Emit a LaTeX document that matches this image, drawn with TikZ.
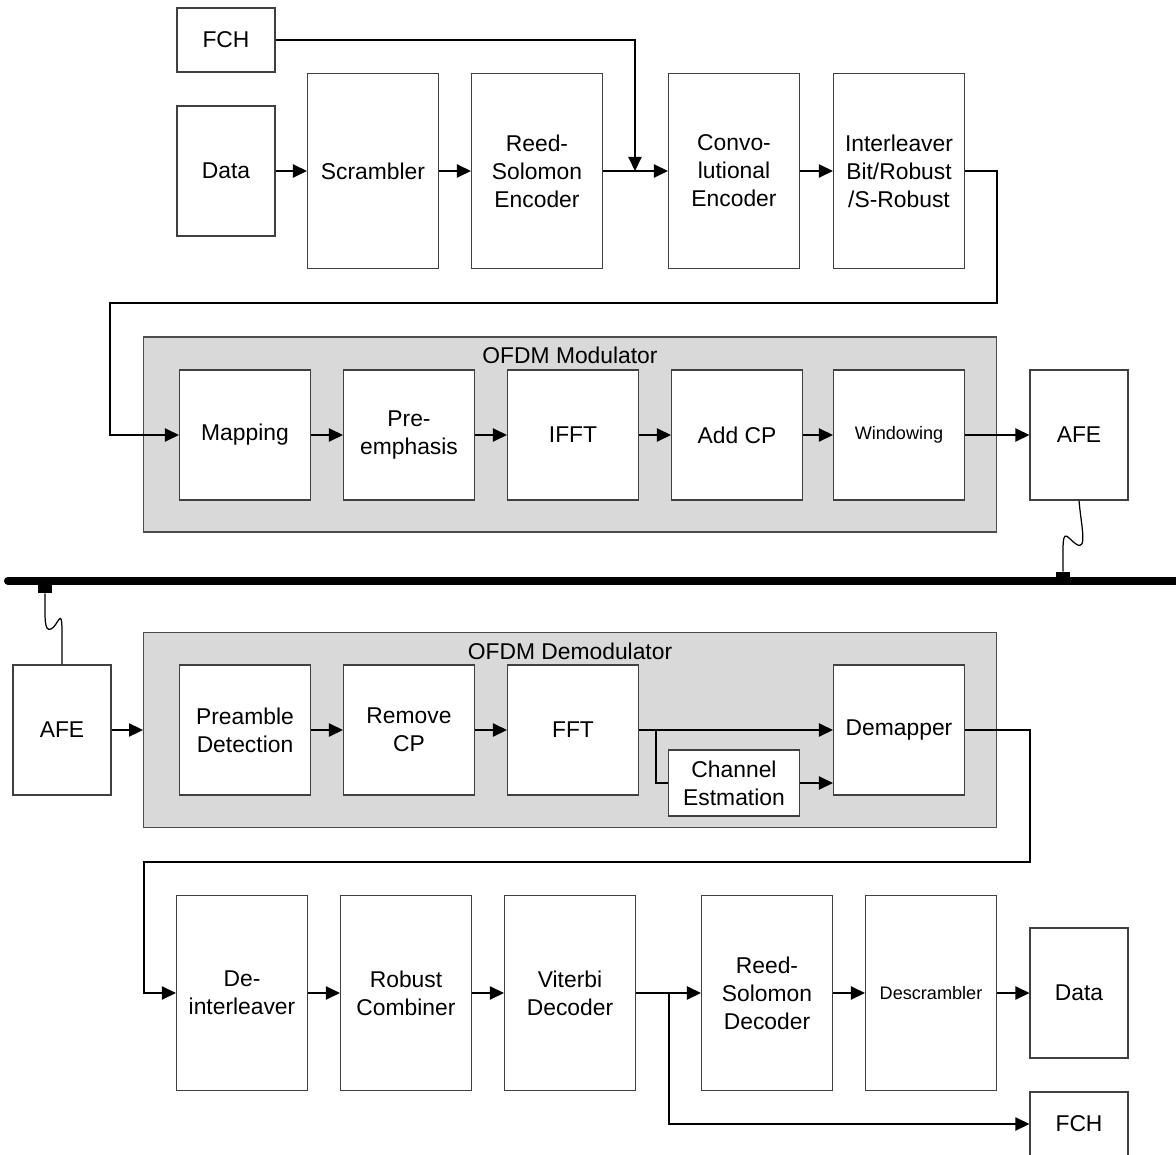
\documentclass[tikz,border=0pt]{standalone}
\usepackage{fontspec}
\setmainfont{Liberation Sans}
\usetikzlibrary{arrows.meta}
\tikzset{
  blk/.style={draw=black!75,line width=0.6pt,fill=white,inner sep=0pt,align=center,
    minimum width=2.62cm,minimum height=3.9cm,font=\fontsize{13}{15.9}\selectfont},
  midblk/.style={blk,minimum height=2.6cm},
  smallblk/.style={blk,minimum width=1.96cm,minimum height=2.6cm},
  fchblk/.style={blk,minimum width=1.96cm,minimum height=1.28cm},
  chanblk/.style={blk,minimum height=1.32cm},
  graybox/.style={draw=black!70,line width=0.6pt,fill=black!15,inner sep=0pt,
    minimum width=17.06cm,minimum height=3.9cm},
  lbl/.style={font=\fontsize{13}{15.9}\selectfont,inner sep=0pt},
  arr/.style={line width=0.85pt,-{Triangle[length=8pt,width=7.5pt]}},
  ln/.style={line width=0.85pt},
  bus/.style={line width=4.6pt,line cap=round},
  tap/.style={fill=black,inner sep=0pt,minimum width=0.28cm,minimum height=0.16cm},
  wire/.style={line width=0.7pt}
}
\begin{document}
\begin{tikzpicture}[x=0.02cm,y=-0.02cm]
	\useasboundingbox (0,0) rectangle (1176,1155);
	% transmitter
	\node[fchblk] (fchA) at (226,40) {FCH};
	\node[smallblk] (datA) at (226,171) {Data};
	\node[blk] (scr) at (373,171) {Scrambler};
	\node[blk] (rse) at (537,171) {Reed-\\Solomon\\Encoder};
	\node[blk] (conv) at (734,171) {Convo-\\lutional\\Encoder};
	\node[blk] (ilv) at (899,171) {Interleaver\\Bit/Robust\\/S-Robust};
	\node[graybox] (mod) at (570,434.5) {};
	\node[lbl] (modlbl) at (570,355) {OFDM Modulator};
	\node[midblk] (map) at (245,435) {Mapping};
	\node[midblk] (pre) at (409,435) {Pre-\\emphasis};
	\node[midblk] (ifft) at (573,435) {IFFT};
	\node[midblk] (acp) at (737,435) {Add CP};
	\node[midblk,font=\fontsize{10.3}{12.5}\selectfont] (win) at (899,435) {Windowing};
	\node[smallblk] (afeA) at (1079,435) {AFE};
	\coordinate (jnA) at (635,171);
	\coordinate (tA) at (997,303);
	\coordinate (tB) at (110,303);
	\draw[arr] (fchA.east) -| (jnA);
	\draw[arr] (datA.east) -- (scr.west);
	\draw[arr] (scr.east) -- (rse.west);
	\draw[arr] (rse.east) -- (conv.west);
	\draw[arr] (conv.east) -- (ilv.west);
	\draw[arr] (ilv.east) -| (tA) -- (tB) |- (map.west);
	\draw[arr] (map.east) -- (pre.west);
	\draw[arr] (pre.east) -- (ifft.west);
	\draw[arr] (ifft.east) -- (acp.west);
	\draw[arr] (acp.east) -- (win.west);
	\draw[arr] (win.east) -- (afeA.west);
	% power line
	\coordinate (busL) at (8,581);
	\coordinate (busR) at (1185,581);
	\draw[bus] (busL) -- (busR);
	\node[tap] (tapR) at (1063,576) {};
	\node[tap] (tapL) at (45,589) {};
	\draw[wire] (afeA.south) .. controls (1081,525) and (1088,552) .. (1076,544)
		.. controls (1068,539) and (1063,526) .. (1063,550) -- (tapR.north);
	% receiver
	\node[smallblk] (afeB) at (62,730) {AFE};
	\draw[wire] (tapL.south) .. controls (45,618) and (44,632) .. (51,629)
		.. controls (58,626) and (62,605) .. (62,632) -- (afeB.north);
	\node[graybox] (demod) at (570,730) {};
	\node[lbl] (demodlbl) at (570,651) {OFDM Demodulator};
	\node[midblk] (pdet) at (245,730) {Preamble\\Detection};
	\node[midblk] (rcp) at (409,730) {Remove\\CP};
	\node[midblk] (fft) at (573,730) {FFT};
	\node[midblk] (demap) at (899,730) {Demapper};
	\node[chanblk] (chan) at (734,783) {Channel\\Estmation};
	\coordinate (jnB) at (656,730);
	\coordinate (tC) at (1030,862);
	\coordinate (tD) at (144,862);
	\draw[arr] (afeB.east) -- (demod.west |- afeB.east);
	\draw[arr] (pdet.east) -- (rcp.west);
	\draw[arr] (rcp.east) -- (ifft.west |- rcp.east);
	\draw[arr] (fft.east) -- (demap.west);
	\draw[ln] (jnB) |- (chan.west);
	\draw[arr] (chan.east) -- (demap.west |- chan.east);
	\node[blk] (dil) at (242,993) {De-\\interleaver};
	\node[blk] (rcb) at (406,993) {Robust\\Combiner};
	\node[blk] (vit) at (570,993) {Viterbi\\Decoder};
	\node[blk] (rsd) at (767,993) {Reed-\\Solomon\\Decoder};
	\node[blk,font=\fontsize{10.3}{12.5}\selectfont] (dscr) at (931,993) {Descrambler};
	\node[smallblk] (datB) at (1079,993) {Data};
	\node[fchblk] (fchB) at (1079,1124) {FCH};
	\coordinate (jnC) at (669,993);
	\draw[arr] (demap.east) -| (tC) -- (tD) |- (dil.west);
	\draw[arr] (dil.east) -- (rcb.west);
	\draw[arr] (rcb.east) -- (vit.west);
	\draw[arr] (vit.east) -- (rsd.west);
	\draw[arr] (rsd.east) -- (dscr.west);
	\draw[arr] (dscr.east) -- (datB.west);
	\draw[arr] (jnC) |- (fchB.west);
\end{tikzpicture}
\end{document}
